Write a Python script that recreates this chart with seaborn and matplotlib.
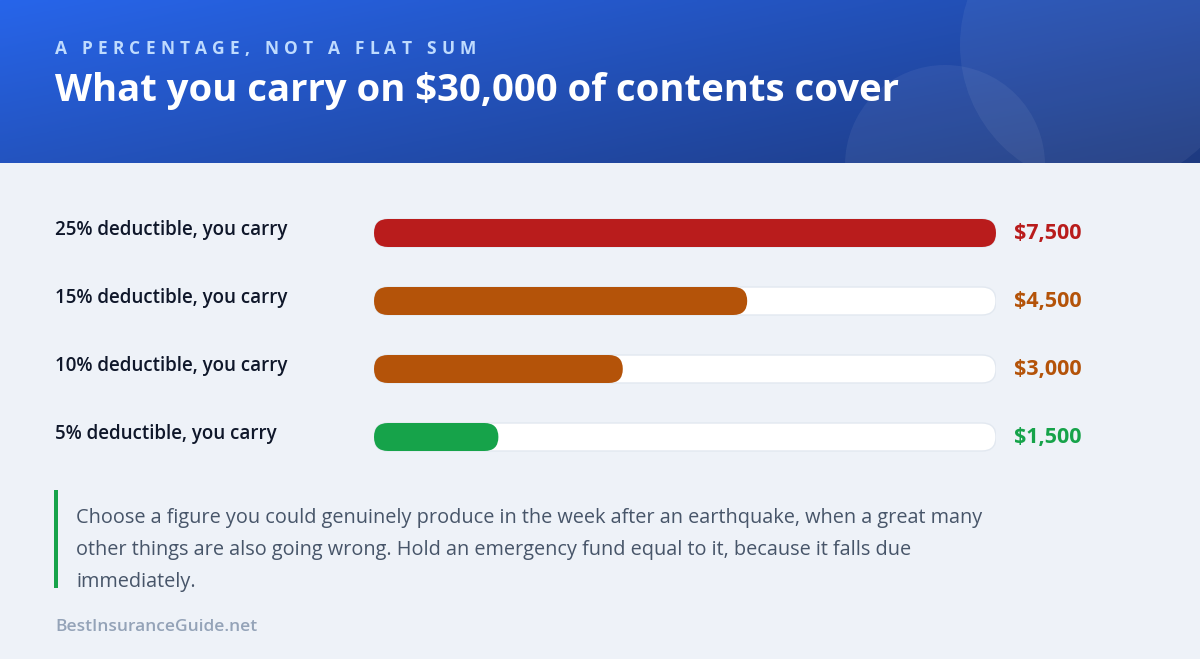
import numpy as np
import matplotlib
matplotlib.use("Agg")
import matplotlib.pyplot as plt
import seaborn as sns
from matplotlib.patches import FancyBboxPatch, Circle, Rectangle
from matplotlib.transforms import blended_transform_factory

# data
labels = ["25% deductible, you carry", "15% deductible, you carry",
          "10% deductible, you carry", "5% deductible, you carry"]
carried = [7500, 4500, 3000, 1500]
value_text = ["$7,500", "$4,500", "$3,000", "$1,500"]
bar_colors = ["#b91c1c", "#b45309", "#b45309", "#16a34a"]

kicker = "A PERCENTAGE, NOT A FLAT SUM"
title = "What you carry on $30,000 of contents cover"
note = ("Choose a figure you could genuinely produce in the week after an earthquake, when a great many\n"
        "other things are also going wrong. Hold an emergency fund equal to it, because it falls due\n"
        "immediately.")
source = "BestInsuranceGuide.net"

W, H = 1200, 659
BG = "#eef2f8"

sns.set_theme(style="white")
plt.rcParams["font.family"] = ["Open Sans", "DejaVu Sans"]

fig = plt.figure(figsize=(W / 100, H / 100), dpi=100, facecolor=BG)
renderer = fig.canvas.get_renderer()

# background layer in pixel coords
bg = fig.add_axes([0, 0, 1, 1])
bg.set_xlim(0, W)
bg.set_ylim(H, 0)
bg.axis("off")
bg.add_patch(Rectangle((0, 0), W, H, color=BG, zorder=0))

# header gradient
gx = np.linspace(0, 1, 300)
gy = np.linspace(0, 1, 60)
GX, GY = np.meshgrid(gx, gy)
t = np.clip(0.6 * GX + 0.4 * GY, 0, 1)
c0 = np.array([0x27, 0x65, 0xea]) / 255
c1 = np.array([0x1e, 0x3a, 0x80]) / 255
grad = c0[None, None, :] * (1 - t[..., None]) + c1[None, None, :] * t[..., None]
bg.imshow(grad, extent=(0, W, 163, 0), aspect="auto", zorder=1)
hdr_clip = Rectangle((0, 0), W, 163, transform=bg.transData)
for cx, cy, r in [(1102, 45, 142), (945, 165, 100)]:
    c = Circle((cx, cy), r, color="white", alpha=0.06, zorder=2, lw=0)
    bg.add_patch(c)
    c.set_clip_path(hdr_clip)

# letter-spaced kicker, placed one glyph at a time
xpos = 55
tracking = 5.2
for ch in kicker:
    txt = bg.text(xpos, 49, ch, color="#bfdbfe", fontsize=12.5, fontweight="bold",
                  va="center", ha="left", zorder=3)
    if ch == " ":
        adv = 12.5 * 1.389 * 0.26
    else:
        adv = txt.get_window_extent(renderer).width
    xpos += adv + tracking

bg.text(55, 91, title, color="white", fontsize=27.5, fontweight="bold",
        va="center", ha="left", zorder=3)

# note block
bg.add_patch(Rectangle((54, 490), 4, 98, color="#16a34a", lw=0, zorder=3))
bg.text(76, 508, note, color="#475569", fontsize=14.3, va="top", ha="left",
        linespacing=1.8, zorder=3)
bg.text(55, 627, source, color="#94a3b8", fontsize=12.5, fontweight="semibold",
        va="center", ha="left", zorder=3)

# bar area
x0, x1, y0, y1 = 374, 996, 199, 471
ax = fig.add_axes([x0 / W, 1 - y1 / H, (x1 - x0) / W, (y1 - y0) / H])
ax.set_facecolor("none")
bar_w = 28 / 68
track = [max(carried)] * len(carried)
sns.barplot(x=track, y=labels, orient="h", color="white", saturation=1,
            width=bar_w, ax=ax)
n_track = len(ax.patches)
sns.barplot(x=carried, y=labels, orient="h", hue=labels, palette=bar_colors,
            saturation=1, legend=False, width=bar_w, ax=ax)
ax.set_xlim(0, max(carried))
ax.set_ylim(len(labels) - 0.5, -0.5)
ax.axis("off")

# turn the rectangles into pill shapes
xu = max(carried) / (x1 - x0)
yu = len(labels) / (y1 - y0)
aspect = yu / xu
for i, p in enumerate(list(ax.patches)):
    x, y = p.get_x(), p.get_y()
    w, h = p.get_width(), p.get_height()
    fc = p.get_facecolor()
    is_track = i < n_track
    p.remove()
    pill = FancyBboxPatch((x, y), w, h,
                          boxstyle=f"round,pad=0,rounding_size={14 * xu}",
                          mutation_aspect=aspect, facecolor=fc,
                          edgecolor="#e2e8f0" if is_track else "none",
                          lw=1 if is_track else 0, zorder=1 if is_track else 2)
    ax.add_patch(pill)

tr = blended_transform_factory(bg.transData, ax.transData)
for i, (lab, vt, col) in enumerate(zip(labels, value_text, bar_colors)):
    ax.text(55, i - 0.05, lab, transform=tr, color="#0f172a", fontsize=13.5,
            fontweight="semibold", va="center", ha="left")
    ax.text(1014, i, vt, transform=tr, color=col, fontsize=15.5,
            fontweight="bold", va="center", ha="left")

fig.savefig("out.png", dpi=100, facecolor=BG)
